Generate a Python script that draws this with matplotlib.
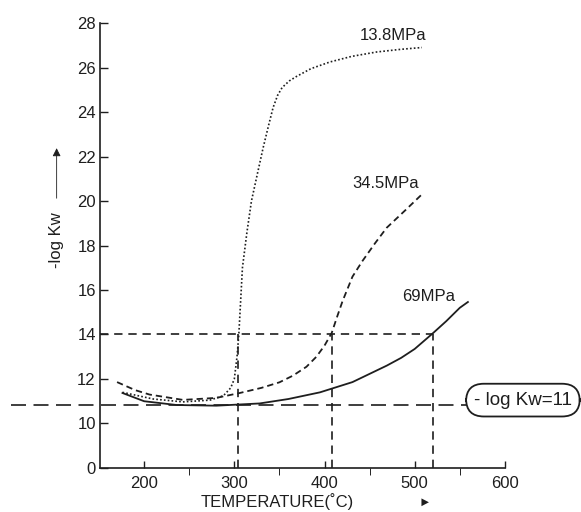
import matplotlib.pyplot as plt

# -log Kw vs temperature at three pressures (y axis is broken: 8 on the axis is labelled "0")
t_138 = [176, 210, 243, 273, 288, 296, 300, 303, 305, 309, 314, 319, 326, 332, 338, 343, 348, 353, 361, 369, 385, 406, 430, 458, 485, 508]
k_138 = [11.4, 11.1, 10.97, 11.05, 11.25, 11.6, 12.0, 13.0, 14.0, 17.0, 18.6, 20.0, 21.3, 22.4, 23.4, 24.2, 24.75, 25.1, 25.4, 25.6, 25.95, 26.25, 26.5, 26.7, 26.82, 26.9]

t_345 = [170, 190, 206, 243, 280, 306, 330, 350, 365, 380, 391, 400, 408, 414, 420, 426, 431, 442, 456, 469, 490, 508]
k_345 = [11.86, 11.5, 11.3, 11.06, 11.15, 11.37, 11.6, 11.85, 12.15, 12.55, 13.0, 13.5, 14.07, 14.8, 15.5, 16.1, 16.6, 17.3, 18.1, 18.8, 19.6, 20.3]

t_69 = [176, 200, 236, 280, 328, 360, 395, 431, 469, 485, 500, 520, 535, 550, 559]
k_69 = [11.37, 11.0, 10.83, 10.8, 10.9, 11.1, 11.4, 11.86, 12.6, 12.95, 13.35, 14.05, 14.6, 15.2, 15.46]

labels = ["13.8MPa", "34.5MPa", "69MPa"]
kw_ref = 10.83          # the "-log Kw = 11" reference line
kw_14 = 14
t_cross = [304, 408, 520]   # temperatures where the curves reach 14

yticks = [8, 10, 12, 14, 16, 18, 20, 22, 24, 26, 28]
yticklabels = ["0", "10", "12", "14", "16", "18", "20", "22", "24", "26", "28"]
xticks = [200, 300, 400, 500, 600]

ink = "#1e1e1e"
plt.rcParams["font.family"] = ["Liberation Sans", "DejaVu Sans"]

fig = plt.figure(figsize=(5.81, 5.12), dpi=100)
ax = fig.add_axes([0.172, 0.086, 0.697, 0.869])

ax.plot(t_138, k_138, color=ink, lw=1.2, ls=(0, (1, 1.3)))
ax.plot(t_345, k_345, color=ink, lw=1.3, ls=(0, (3.5, 2.2)))
ax.plot(t_69, k_69, color=ink, lw=1.3)

# guide lines
ax.plot([151, t_cross[-1]], [kw_14, kw_14], color=ink, lw=1.2, ls=(0, (5, 3.5)), clip_on=False)
for t in t_cross:
    ax.plot([t, t], [8, kw_14], color=ink, lw=1.2, ls=(0, (5, 3.5)), clip_on=False)
ax.plot([52, 560], [kw_ref, kw_ref], color=ink, lw=1.2, ls=(0, (9, 4.5)), clip_on=False)

ax.text(620, 11.05, "- log Kw=11", fontsize=13.5, color=ink, ha="center", va="center",
        bbox=dict(boxstyle="round,pad=0.42,rounding_size=0.95", fc="white", ec=ink, lw=1.3),
        clip_on=False)

ax.text(476, 27.46, labels[0], fontsize=12, color=ink, ha="center", va="center")
ax.text(468, 20.8, labels[1], fontsize=12, color=ink, ha="center", va="center")
ax.text(515, 15.7, labels[2], fontsize=12, color=ink, ha="center", va="center")

ax.set_xlim(151, 600)
ax.set_ylim(8, 28)
ax.set_yticks(yticks, yticklabels)
ax.set_xticks(xticks)
ax.set_xticks(range(200, 601, 50), minor=True)
ax.tick_params(direction="in", length=6, width=1, colors=ink, labelsize=12)
ax.tick_params(axis="x", which="both", length=5, pad=6)
ax.tick_params(axis="y", pad=3)
for s in ["top", "right"]:
    ax.spines[s].set_visible(False)
for s in ["left", "bottom"]:
    ax.spines[s].set_color(ink)
    ax.spines[s].set_linewidth(1.2)

# axis titles with arrows
ax.text(103, 18.25, "-log Kw", rotation=90, fontsize=12, color=ink, ha="center", va="center",
        clip_on=False)
ax.annotate("", xy=(103, 22.5), xytext=(103, 20.0), annotation_clip=False,
            arrowprops=dict(arrowstyle="-|>", color=ink, lw=0.6, mutation_scale=12))
ax.text(348, 6.5, "TEMPERATURE(˚C)", fontsize=12, color=ink, ha="center", va="center",
        clip_on=False)
ax.text(511, 6.45, "►", fontsize=9, color=ink, ha="center", va="center", clip_on=False)

fig.savefig("out.png", dpi=100)
